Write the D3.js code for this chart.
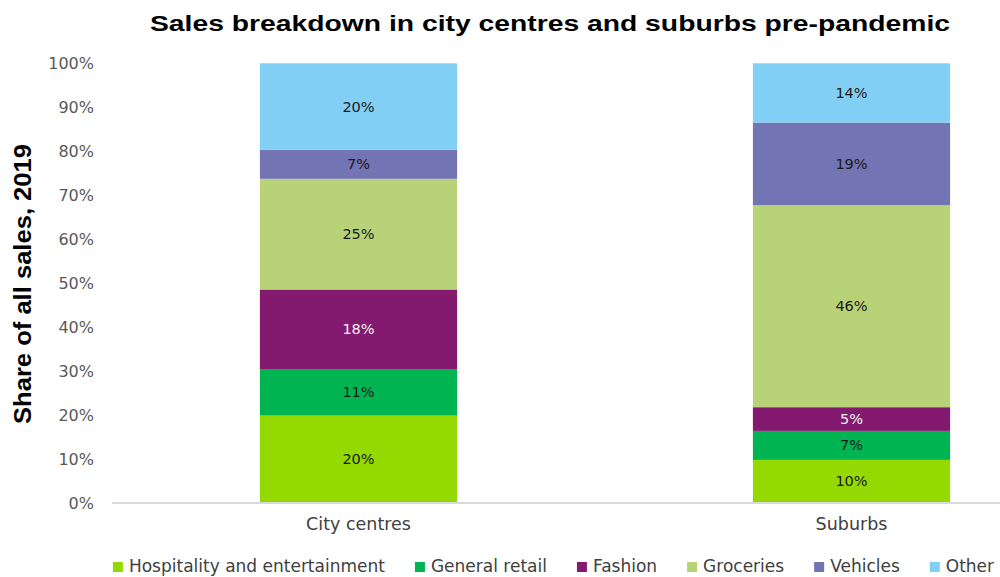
<!DOCTYPE html>
<html>
<head>
<meta charset="utf-8">
<script src="https://cdn.jsdelivr.net/npm/d3@7"></script>
<style>
  html, body { margin: 0; padding: 0; background: #fff; }
  svg { display: block; }
</style>
</head>
<body>
<svg id="chart" width="1000" height="577"></svg>
<script>
const categories = ["City centres", "Suburbs"];
const seriesNames = ["Hospitality and entertainment", "General retail", "Fashion", "Groceries", "Vehicles", "Other"];
const hospitality = [19.8, 9.7];
const generalRetail = [10.6, 6.6];
const fashion = [18.1, 5.4];
const groceries = [25.2, 46.0];
const vehicles = [6.6, 18.8];
const other = [19.7, 13.5];
const yTicks = [0, 10, 20, 30, 40, 50, 60, 70, 80, 90, 100];
const colors = ["#94d900", "#00b451", "#841a6f", "#b8d277", "#7374b3", "#81cff4"];
const labelColors = ["#1a1a1a", "#1a1a1a", "#f2f2f2", "#1a1a1a", "#1a1a1a", "#1a1a1a"];

const seriesValues = [hospitality, generalRetail, fashion, groceries, vehicles, other];
const rows = categories.map((c, i) => {
  const r = { category: c };
  seriesNames.forEach((s, j) => r[s] = seriesValues[j][i]);
  return r;
});
const stacked = d3.stack().keys(seriesNames)(rows);

const svg = d3.select("#chart");
const font = "'DejaVu Sans', sans-serif";

const y = d3.scaleLinear().domain([0, 100]).range([502.5, 63.3]);
const x = d3.scaleBand().domain(categories).range([112, 1098]).paddingInner(0.6).paddingOuter(0.3);

// title
svg.append("text")
  .attr("x", 550).attr("y", 31)
  .attr("text-anchor", "middle")
  .attr("font-family", "'Liberation Sans', Arial, sans-serif")
  .attr("font-weight", "bold")
  .attr("font-size", 22)
  .attr("textLength", 800)
  .attr("lengthAdjust", "spacingAndGlyphs")
  .attr("fill", "#000")
  .text("Sales breakdown in city centres and suburbs pre-pandemic");

// y axis title
svg.append("text")
  .attr("transform", "translate(31,284) rotate(-90)")
  .attr("text-anchor", "middle")
  .attr("font-family", "'Liberation Sans', Arial, sans-serif")
  .attr("font-weight", "bold")
  .attr("font-size", 23)
  .attr("textLength", 280)
  .attr("lengthAdjust", "spacingAndGlyphs")
  .attr("fill", "#000")
  .text("Share of all sales, 2019");

// y axis
const yAxis = d3.axisLeft(y).tickValues(yTicks).tickFormat(d => d + "%").tickSize(0).tickPadding(0);
const yg = svg.append("g").attr("transform", "translate(94,0)").call(yAxis);
yg.select(".domain").remove();
yg.selectAll("text")
  .attr("font-family", font)
  .attr("font-size", 16)
  .attr("fill", "#595959")
  .attr("dy", "0.35em");

// bars
const layers = svg.append("g").selectAll("g")
  .data(stacked).join("g")
  .attr("fill", (d, i) => colors[i]);
layers.selectAll("rect")
  .data(d => d.map(v => ({ v, key: d.key })))
  .join("rect")
  .attr("x", d => x(d.v.data.category))
  .attr("width", x.bandwidth())
  .attr("y", d => y(d.v[1]))
  .attr("height", d => y(d.v[0]) - y(d.v[1]));

// bar labels
stacked.forEach((s, i) => {
  svg.append("g").selectAll("text")
    .data(s).join("text")
    .attr("x", d => x(d.data.category) + x.bandwidth() / 2)
    .attr("y", d => (y(d[0]) + y(d[1])) / 2)
    .attr("dy", "0.35em")
    .attr("text-anchor", "middle")
    .attr("font-family", font)
    .attr("font-size", 14.5)
    .attr("fill", labelColors[i])
    .text(d => Math.round(d[1] - d[0]) + "%");
});

// x axis
const xAxis = d3.axisBottom(x).tickSize(0).tickPadding(0);
const xg = svg.append("g").attr("transform", "translate(0,503)").call(xAxis);
xg.select(".domain").remove();
xg.append("line").attr("x1", 112).attr("x2", 1000).attr("y1", 0).attr("y2", 0)
  .attr("stroke", "#d9d9d9").attr("stroke-width", 2);
xg.selectAll(".tick text")
  .attr("y", 27)
  .attr("dy", 0)
  .attr("font-family", font)
  .attr("font-size", 17.5)
  .attr("fill", "#404040");

// legend
const legend = svg.append("g");
const items = legend.selectAll("g").data(seriesNames).join("g");
items.append("rect").attr("width", 10).attr("height", 10).attr("y", -10)
  .attr("fill", (d, i) => colors[i]);
items.append("text").attr("x", 16).attr("y", 0)
  .attr("font-family", font).attr("font-size", 17).attr("fill", "#404040")
  .text(d => d);
let cx = 0;
const positions = [];
items.each(function () {
  positions.push(cx);
  const w = this.querySelector("text").getComputedTextLength();
  cx += 16 + w + 30;
});
const total = cx - 30;
const start = 553.5 - total / 2;
items.attr("transform", (d, i) => `translate(${start + positions[i]},572)`);
</script>
</body>
</html>
